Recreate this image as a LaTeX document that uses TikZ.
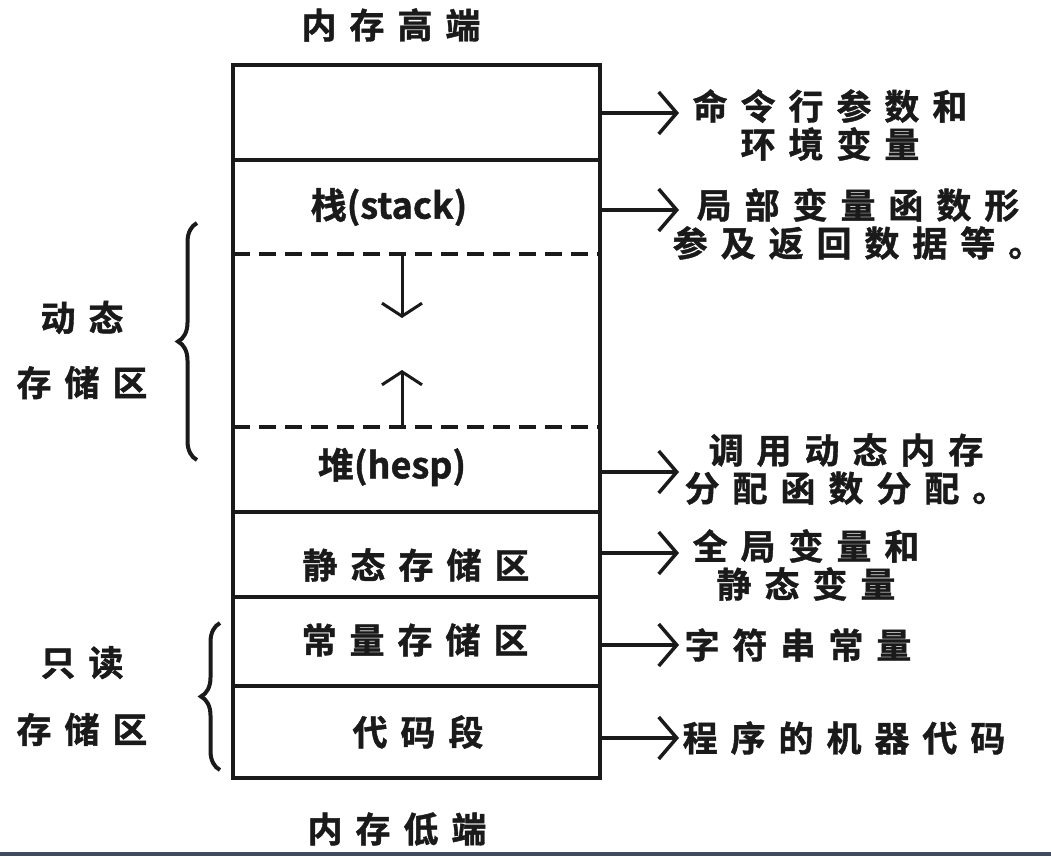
\documentclass[tikz,border=0pt]{standalone}
\usepackage{fontspec}
\usetikzlibrary{arrows.meta,decorations.pathreplacing}
\newfontfamily\cjk{Noto Sans CJK SC Bold}[LetterSpace=37, FakeBold=1.2]
\newfontfamily\cjkn{Noto Sans CJK SC Bold}[FakeBold=1.2]
\definecolor{ink}{HTML}{1A1A1A}
\definecolor{barblue}{HTML}{3E4B63}
\tikzset{
  secbox/.style={draw=ink, line width=3.5pt, minimum width=367pt, inner sep=0pt},
  lbl/.style={font=\fontsize{35}{38}\selectfont\cjk, text=ink, inner sep=0pt, align=center},
  lbln/.style={font=\fontsize{36}{40}\selectfont\cjkn, text=ink, inner sep=0pt},
  conn/.style={draw=ink, line width=3.5pt, -{Straight Barb[length=18pt,width=42pt]}},
  growarr/.style={draw=ink, line width=3pt, -{Straight Barb[length=13pt,width=40pt]}},
  dashline/.style={draw=ink, line width=3.5pt, dash pattern=on 17pt off 9pt},
  bracestyle/.style={draw=ink, line width=4pt, decorate, decoration={brace, amplitude=19pt}}
}
\begin{document}
\begin{tikzpicture}[x=1pt,y=-1pt]
\useasboundingbox (0,0) rectangle (1051,856);
\fill[white] (0,0) rectangle (1051,856);
\fill[barblue] (0,852) rectangle (1051,856);

% memory sections
\node[secbox, minimum height=95pt] (cmd) at (416.5,112.5) {};
\node[secbox, minimum height=352pt] (dyn) at (416.5,336) {};
\node[secbox, minimum height=85pt] (static) at (416.5,554.5) {};
\node[secbox, minimum height=89pt] (const) at (416.5,641.5) {};
\node[secbox, minimum height=92pt] (code) at (416.5,732) {};

% dashed boundaries
\coordinate (d1l) at (233,254); \coordinate (d1r) at (600,254);
\coordinate (d2l) at (233,427); \coordinate (d2r) at (600,427);
\draw[dashline] (d1l) -- (d1r);
\draw[dashline] (d2l) -- (d2r);

% growth arrows
\coordinate (gs1) at (402,254); \coordinate (ge1) at (402,318);
\coordinate (gs2) at (402,427); \coordinate (ge2) at (402,370);
\draw[growarr] (gs1) -- (ge1);
\draw[growarr] (gs2) -- (ge2);

% labels inside
\node[lbl] (top) at (391,25) {内存高端};
\node[lbl] (bottom) at (397,829) {内存低端};
\node[lbln] (stack) at (389,207) {栈(stack)};
\node[lbln] (heap) at (392,467) {堆(hesp)};
\node[lbl] (staticl) at (416,565) {静态存储区};
\node[lbl] (constl) at (415,640) {常量存储区};
\node[lbl] (codel) at (418,732) {代码段};

% left labels and braces
\node[lbl] (dynl) at (82,350) {动态\\[27pt]存储区};
\node[lbl] (rol) at (82,696) {只读\\[29pt]存储区};
\coordinate (b1s) at (197,460); \coordinate (b1e) at (197,223);
\coordinate (b2s) at (220,770); \coordinate (b2e) at (220,623);
\draw[bracestyle] (b1s) -- (b1e);
\draw[bracestyle] (b2s) -- (b2e);

% right labels
\node[lbl] (r1) at (830,125) {命令行参数和\\环境变量};
\node[lbl] (r2) at (858,224) {局部变量函数形\\参及返回数据等。};
\node[lbl] (r3) at (846,469) {调用动态内存\\分配函数分配。};
\node[lbl] (r4) at (806,565) {全局变量和\\静态变量};
\node[lbl] (r5) at (798,645) {字符串常量};
\node[lbl] (r6) at (844,738) {程序的机器代码};

% connectors
\coordinate (a1s) at (600,113); \coordinate (a1e) at (679,113);
\coordinate (a2s) at (600,210); \coordinate (a2e) at (679,210);
\coordinate (a3s) at (600,472); \coordinate (a3e) at (679,472);
\coordinate (a4s) at (600,553); \coordinate (a4e) at (679,553);
\coordinate (a5s) at (600,645); \coordinate (a5e) at (679,645);
\coordinate (a6s) at (600,738); \coordinate (a6e) at (679,738);
\draw[conn] (a1s) -- (a1e);
\draw[conn] (a2s) -- (a2e);
\draw[conn] (a3s) -- (a3e);
\draw[conn] (a4s) -- (a4e);
\draw[conn] (a5s) -- (a5e);
\draw[conn] (a6s) -- (a6e);
\end{tikzpicture}
\end{document}
